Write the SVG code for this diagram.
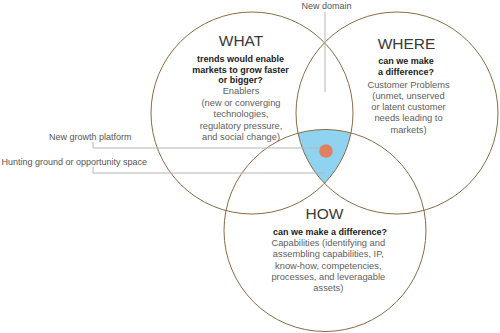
<svg xmlns="http://www.w3.org/2000/svg" width="500" height="333" viewBox="0 0 500 333">
<style>
.circ{fill:none;stroke:#8a6b45;stroke-width:1}
.title{font-family:"Liberation Sans",Arial,sans-serif;font-size:15.5px;fill:#3a3a3a;text-anchor:middle}
.q{font-family:"Liberation Sans",Arial,sans-serif;font-size:9px;font-weight:bold;fill:#222;text-anchor:middle}
.body{font-family:"Liberation Sans",Arial,sans-serif;font-size:9.3px;fill:#5e5e5e;text-anchor:middle}
.lbl{font-family:"Liberation Sans",Arial,sans-serif;font-size:9px;fill:#555}
.lead{fill:none;stroke:#b4b4b4;stroke-width:1}
</style>
<rect width="500" height="333" fill="#fff"/>
<g id="overlap">
<path d="M324.5 183.3 A101 101 0 0 1 298 133.2 A101 101 0 0 1 351 132.9 A101 101 0 0 1 324.5 183.3 Z" fill="#8fd3f0"/>
</g>
<g id="what">
<circle class="circ" cx="252" cy="113" r="101"/>
<text class="title" x="241" y="45.5">WHAT</text>
<text class="q" x="240.5" y="62">trends would enable</text>
<text class="q" x="240.5" y="72.5">markets to grow faster</text>
<text class="q" x="240.5" y="83">or bigger?</text>
<text class="body" x="241" y="94">Enablers</text>
<text class="body" x="241" y="105.5">(new or converging</text>
<text class="body" x="241" y="117">technologies,</text>
<text class="body" x="241" y="128.5">regulatory pressure,</text>
<text class="body" x="241" y="140">and social change)</text>
</g>
<g id="where">
<circle class="circ" cx="397" cy="113" r="101"/>
<text class="title" x="406.5" y="49">WHERE</text>
<text class="q" x="406" y="64">can we make</text>
<text class="q" x="406" y="74.5">a difference?</text>
<text class="body" x="408.5" y="87.5">Customer Problems</text>
<text class="body" x="408.5" y="98.8">(unmet, unserved</text>
<text class="body" x="408.5" y="110">or latent customer</text>
<text class="body" x="408.5" y="121.3">needs leading to</text>
<text class="body" x="408.5" y="132.5">markets)</text>
</g>
<g id="how">
<circle class="circ" cx="325" cy="230.5" r="101"/>
<text class="title" x="324.5" y="219.3">HOW</text>
<text class="q" x="330" y="235">can we make a difference?</text>
<text class="body" x="328.3" y="246">Capabilities (identifying and</text>
<text class="body" x="328.3" y="257.3">assembling capabilities, IP,</text>
<text class="body" x="328.3" y="268.5">know-how, competencies,</text>
<text class="body" x="328.3" y="279.8">processes, and leveragable</text>
<text class="body" x="328.3" y="291">assets)</text>
</g>
<g id="connectors">
<path class="lead" d="M325 12 V92"/>
<path class="lead" d="M93 142 V148 H322"/>
<path class="lead" d="M93 167 V173 H325"/>
</g>
<g id="dot">
<circle cx="326" cy="151" r="6.8" fill="#e08062"/>
</g>
<g id="label-new-domain">
<text class="lbl" x="301.5" y="8.5">New domain</text>
</g>
<g id="label-new-growth">
<text class="lbl" x="49" y="140">New growth platform</text>
</g>
<g id="label-hunting">
<text class="lbl" x="1.5" y="165">Hunting ground or opportunity space</text>
</g>
</svg>
